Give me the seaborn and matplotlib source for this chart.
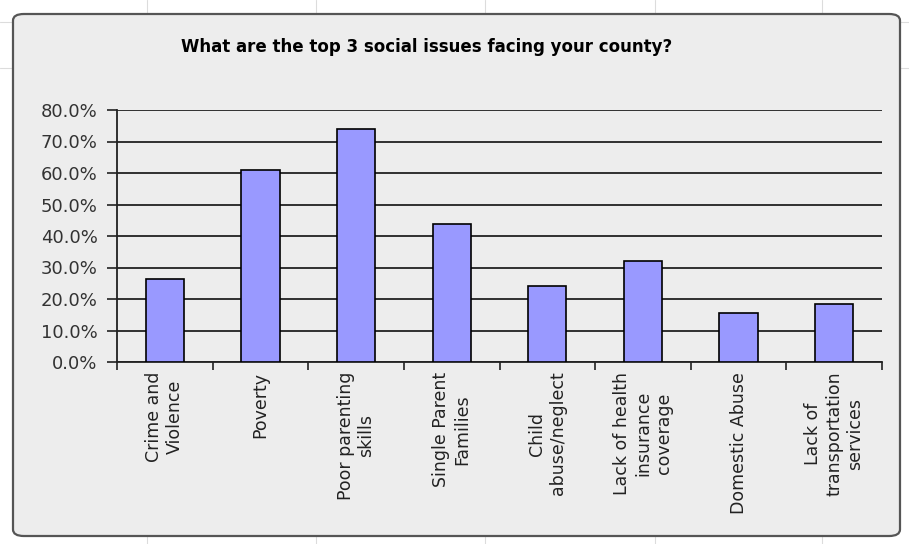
import matplotlib
matplotlib.use("Agg")
import matplotlib.pyplot as plt
import seaborn as sns
import pandas as pd
from matplotlib.patches import FancyBboxPatch
from matplotlib.lines import Line2D
from matplotlib.ticker import MultipleLocator, FuncFormatter

categories = ["Crime and\nViolence", "Poverty", "Poor parenting\nskills",
              "Single Parent\nFamilies", "Child\nabuse/neglect",
              "Lack of health\ninsurance\ncoverage", "Domestic Abuse",
              "Lack of\ntransportation\nservices"]
values = [26.3, 60.9, 74.1, 43.8, 24.2, 32.1, 15.5, 18.4]
title = "What are the top 3 social issues facing your county?"

sns.set_theme(style="white")
plt.rcParams['font.family'] = ['DejaVu Sans']

W, H = 909, 544
fig = plt.figure(figsize=(W / 100, H / 100), dpi=100)
fig.patch.set_facecolor("white")

# faint spreadsheet grid behind chart
for x in [147, 316, 485, 655, 822]:
    fig.add_artist(Line2D([x / W, x / W], [0, 1], color="#dcdcdc", lw=0.8, zorder=0))
for y in [22, 68]:
    fig.add_artist(Line2D([0, 1], [1 - y / H, 1 - y / H], color="#dcdcdc", lw=0.8, zorder=0))

# chart area
box = FancyBboxPatch((13 / W, 1 - 536 / H), (900 - 13) / W, (536 - 14) / H,
                     boxstyle="round,pad=0,rounding_size=0.012",
                     transform=fig.transFigure, facecolor="#ededed",
                     edgecolor="#555555", lw=1.6, zorder=1)
fig.add_artist(box)

ax = fig.add_axes([117 / W, 1 - 362 / H, (882 - 117) / W, (362 - 110) / H])
ax.set_zorder(2)
ax.patch.set_alpha(0)

df = pd.DataFrame({"cat": categories, "val": values})
sns.barplot(data=df, x="cat", y="val", color="#9999ff", saturation=1,
            edgecolor="black", linewidth=1.2, width=0.4, ax=ax, zorder=3)

ax.set_ylim(0, 80)
ax.set_xlim(-0.5, len(categories) - 0.5)
ax.yaxis.set_major_locator(MultipleLocator(10))
ax.yaxis.set_major_formatter(FuncFormatter(lambda v, p: f"{v:.1f}%"))
ax.grid(axis="y", color="#222222", lw=1.3, zorder=0)
ax.set_axisbelow(True)
for s in ["top", "right"]:
    ax.spines[s].set_visible(False)
for s in ["left", "bottom"]:
    ax.spines[s].set_color("#222222")
    ax.spines[s].set_linewidth(1.3)

ax.set_xlabel("")
ax.set_ylabel("")
ax.tick_params(axis="y", left=True, length=7, width=1.2, color="#222222",
               labelsize=13, labelcolor="#333333", pad=7, direction="out")
ax.set_xticks(range(len(categories)))
ax.set_xticklabels(categories, rotation=90, ha="center", va="top",
                   multialignment="center", fontsize=12.5, color="#222222")
ax.tick_params(axis="x", bottom=False, pad=1)
ax.set_xticks([i - 0.5 for i in range(len(categories) + 1)], minor=True)
ax.tick_params(axis="x", which="minor", bottom=True, length=6, width=1.2,
               color="#222222", direction="out")

fig.text(427 / W, 1 - 47 / H, title, ha="center", va="center",
         fontsize=12, fontweight="bold", color="black")

fig.savefig("out.png", dpi=100)
